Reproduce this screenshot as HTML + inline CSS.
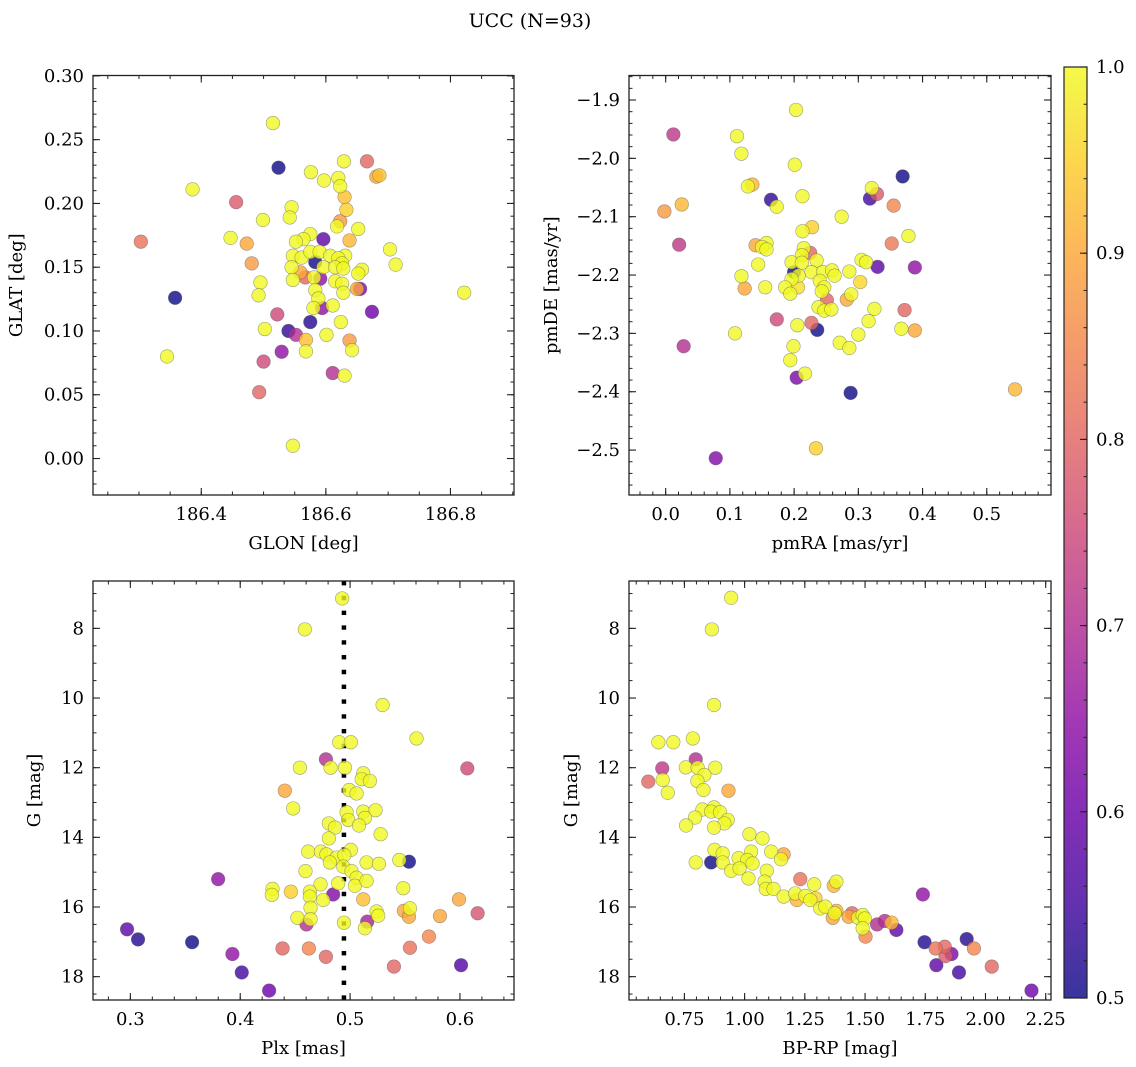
<!DOCTYPE html>
<html><head><meta charset="utf-8">
<style>
html,body{margin:0;padding:0;background:#fff;}
svg{display:block;font-family:"DejaVu Serif","Liberation Serif",serif;}
</style></head>
<body>
<svg id="fig" width="1136" height="1067" viewBox="0 0 1136 1067" xmlns="http://www.w3.org/2000/svg">
<defs>
<linearGradient id="plasma" x1="0" y1="1" x2="0" y2="0">
<stop offset="0" stop-color="#0d0887"/><stop offset="0.1" stop-color="#41049d"/><stop offset="0.2" stop-color="#6a00a8"/><stop offset="0.3" stop-color="#8f0da4"/><stop offset="0.4" stop-color="#b12a90"/><stop offset="0.5" stop-color="#cc4778"/><stop offset="0.6" stop-color="#e16462"/><stop offset="0.7" stop-color="#f2844b"/><stop offset="0.8" stop-color="#fca636"/><stop offset="0.9" stop-color="#fcce25"/><stop offset="1" stop-color="#f0f921"/>
</linearGradient>
</defs>
<text x="530" y="27" text-anchor="middle" font-size="19">UCC (N=93)</text>
<g id="layer"></g>
</svg>
<script>
// ---- Panel 1: GLON vs GLAT ----
const glon = [186.515,186.524,186.629,186.666,186.576,186.597,186.620,186.681,186.686,186.623,186.386,186.630,186.456,186.545,186.542,186.499,186.633,186.623,186.618,186.652,186.447,186.303,186.473,186.596,186.575,186.564,186.552,186.638,186.703,186.712,186.481,186.547,186.561,186.575,186.590,186.583,186.607,186.631,186.620,186.626,186.545,186.596,186.615,186.628,186.559,186.567,186.581,186.591,186.658,186.652,186.547,186.495,186.615,186.626,186.583,186.628,186.655,186.650,186.492,186.358,186.822,186.588,186.611,186.580,186.594,186.674,186.522,186.575,186.624,186.502,186.540,186.552,186.601,186.568,186.638,186.642,186.568,186.529,186.345,186.500,186.611,186.630,186.493,186.547];
const glat = [0.263,0.228,0.233,0.233,0.2245,0.218,0.220,0.221,0.222,0.2135,0.211,0.205,0.201,0.197,0.189,0.187,0.195,0.186,0.182,0.180,0.173,0.170,0.1685,0.172,0.176,0.172,0.170,0.171,0.164,0.152,0.153,0.159,0.1575,0.162,0.162,0.154,0.159,0.159,0.157,0.153,0.150,0.150,0.150,0.149,0.146,0.142,0.142,0.141,0.148,0.145,0.140,0.138,0.139,0.137,0.132,0.130,0.133,0.133,0.128,0.126,0.130,0.1255,0.120,0.118,0.118,0.115,0.113,0.107,0.107,0.1015,0.100,0.097,0.097,0.093,0.0925,0.085,0.084,0.0837,0.080,0.076,0.067,0.065,0.052,0.010];
const prob1 = [1,0.5,1,0.8,1,1,1,0.9,0.93,1,1,0.93,0.78,1,1,1,0.95,0.88,1,1,1,0.82,0.9,0.58,1,1,1,0.92,1,1,0.88,1,1,1,1,0.5,1,1,1,1,1,1,1,1,0.9,0.8,1,0.65,1,1,1,1,1,1,1,1,0.62,0.9,1,0.5,1,1,1,1,0.65,0.6,0.75,0.52,1,1,0.53,0.7,1,0.93,0.88,1,1,0.65,1,0.75,0.7,1,0.8,1];

// ---- Panel 2: pmRA vs pmDE ----
const pmra = [0.203,0.012,0.111,0.118,0.201,0.369,0.128,0.135,0.213,0.321,0.329,0.318,0.164,0.173,-0.002,0.025,0.355,0.274,0.228,0.213,0.378,0.352,0.021,0.140,0.157,0.150,0.157,0.215,0.225,0.212,0.305,0.312,0.330,0.388,0.196,0.212,0.235,0.144,0.200,0.227,0.245,0.259,0.263,0.286,0.118,0.207,0.196,0.240,0.303,0.155,0.123,0.186,0.206,0.247,0.194,0.243,0.251,0.282,0.289,0.238,0.247,0.258,0.325,0.372,0.173,0.227,0.236,0.205,0.316,0.367,0.388,0.108,0.300,0.028,0.199,0.271,0.286,0.194,0.217,0.204,0.288,0.544,0.234,0.078];
const pmde = [-1.917,-1.959,-1.962,-1.992,-2.011,-2.031,-2.048,-2.045,-2.065,-2.051,-2.061,-2.069,-2.071,-2.083,-2.091,-2.079,-2.081,-2.100,-2.118,-2.125,-2.133,-2.146,-2.148,-2.149,-2.145,-2.152,-2.156,-2.154,-2.162,-2.166,-2.174,-2.178,-2.186,-2.187,-2.178,-2.179,-2.175,-2.182,-2.195,-2.195,-2.195,-2.192,-2.201,-2.194,-2.202,-2.201,-2.207,-2.210,-2.212,-2.221,-2.223,-2.221,-2.221,-2.221,-2.232,-2.228,-2.243,-2.242,-2.233,-2.255,-2.261,-2.259,-2.258,-2.260,-2.276,-2.282,-2.294,-2.286,-2.279,-2.292,-2.295,-2.300,-2.302,-2.322,-2.322,-2.316,-2.325,-2.346,-2.369,-2.376,-2.402,-2.396,-2.497,-2.514];
const prob2 = [1,0.72,1,1,1,0.5,1,0.92,1,1,0.78,0.55,0.53,1,0.88,0.92,0.85,1,0.95,1,1,0.83,0.72,0.9,1,1,1,1,0.8,1,1,1,0.58,0.65,1,1,1,1,0.5,1,1,1,1,1,1,1,1,1,0.96,1,0.9,1,0.97,1,1,1,0.8,0.9,1,1,1,1,1,0.8,0.75,0.8,0.5,1,1,1,0.9,1,1,0.7,1,1,1,1,1,0.62,0.5,0.92,0.95,0.63];

// ---- Panel 3: Plx vs G ----
const plx = [0.4928,0.4588,0.5296,0.5605,0.4901,0.5007,0.478,0.4822,0.4543,0.4953,0.6067,0.512,0.5105,0.518,0.4406,0.4992,0.5059,0.4482,0.4968,0.512,0.5232,0.4983,0.5135,0.4807,0.4862,0.5081,0.5278,0.4807,0.4619,0.4734,0.4785,0.5007,0.4877,0.4816,0.4947,0.4938,0.515,0.5262,0.5448,0.5536,0.4594,0.5013,0.5059,0.5044,0.515,0.4892,0.3799,0.4731,0.4294,0.4288,0.4461,0.4634,0.4634,0.4846,0.4755,0.512,0.5484,0.5991,0.464,0.5241,0.5256,0.549,0.5545,0.5536,0.5818,0.6161,0.4521,0.464,0.4603,0.4944,0.5156,0.5135,0.297,0.307,0.3562,0.5718,0.3929,0.4385,0.4625,0.478,0.5545,0.5399,0.601,0.4014,0.4263];
const gmag3 = [7.14,8.03,10.20,11.16,11.27,11.27,11.76,12.00,12.00,12.00,12.02,12.16,12.33,12.38,12.66,12.64,12.74,13.17,13.28,13.26,13.22,13.50,13.44,13.60,13.72,13.66,13.91,14.03,14.41,14.41,14.49,14.36,14.58,14.72,14.51,14.84,14.72,14.76,14.65,14.70,14.97,14.97,15.16,15.39,15.25,15.32,15.20,15.35,15.48,15.65,15.56,15.56,15.70,15.64,15.80,15.78,15.46,15.78,16.02,16.13,16.25,16.11,16.04,16.28,16.26,16.18,16.31,16.35,16.50,16.45,16.42,16.61,16.64,16.93,17.01,16.85,17.35,17.19,17.19,17.43,17.17,17.71,17.67,17.88,18.40];
const prob3 = [1,1,1,1,1,1,0.7,1,1,1,0.75,1,1,1,0.9,1,1,1,1,1,1,1,1,1,1,1,1,1,1,1,1,1,1,1,1,1,1,1,1,0.5,1,1,1,1,1,1,0.65,1,1,1,0.95,1,1,0.63,1,0.93,1,0.9,1,1,1,0.9,1,0.9,0.9,0.77,1,1,0.7,1,0.68,1,0.58,0.52,0.5,0.85,0.65,0.8,0.85,0.8,0.82,0.8,0.57,0.55,0.6];
const plxRef = [0.4944];

// ---- Panel 4: BP-RP vs G ----
const bprp = [0.944,0.864,0.873,0.642,0.704,0.785,0.797,0.658,0.756,0.805,0.878,0.600,0.660,0.833,0.804,0.681,0.829,0.933,0.825,0.873,0.861,0.898,0.794,0.757,0.930,0.916,0.873,1.020,1.074,0.875,0.909,1.110,1.162,1.027,0.975,1.011,1.151,0.797,0.861,0.909,1.033,0.944,0.979,1.092,1.016,1.083,1.231,1.088,1.120,1.289,1.370,1.381,1.162,1.210,1.217,1.252,1.273,1.294,1.314,1.335,1.381,1.374,1.366,1.446,1.432,1.471,1.490,1.499,1.502,1.490,1.550,1.582,1.610,1.630,1.740,1.747,1.793,1.831,1.834,1.859,1.796,1.922,1.952,1.890,2.026,2.191];
const gmag4 = [7.12,8.03,10.20,11.27,11.27,11.16,11.76,12.02,11.99,12.00,12.00,12.40,12.35,12.21,12.38,12.72,12.64,12.66,13.20,13.14,13.26,13.28,13.43,13.66,13.50,13.60,13.72,13.91,14.03,14.36,14.46,14.41,14.49,14.41,14.60,14.65,14.63,14.72,14.72,14.72,14.75,14.96,14.89,14.96,15.18,15.27,15.20,15.48,15.48,15.35,15.39,15.27,15.70,15.61,15.80,15.68,15.80,15.75,16.04,15.99,16.11,16.18,16.31,16.18,16.28,16.31,16.23,16.33,16.85,16.61,16.50,16.40,16.45,16.66,15.64,17.01,17.19,17.14,17.41,17.35,17.67,16.92,17.19,17.88,17.71,18.40];
const prob4 = [1,1,1,1,1,1,0.7,0.72,1,1,1,0.8,1,1,1,1,1,0.9,1,1,1,1,1,1,1,1,1,1,1,1,1,1,0.9,1,1,1,1,1,0.5,1,1,1,1,1,1,1,0.82,1,1,1,0.92,1,1,1,0.92,1,1,0.95,1,1,0.92,1,0.9,0.8,0.9,1,1,1,0.85,1,0.7,0.7,0.92,0.58,0.65,0.52,0.82,0.8,0.78,0.62,0.58,0.52,0.85,0.55,0.8,0.6];

// ---- Colorbar ----
const cbTicks = [0.5,0.6,0.7,0.8,0.9,1.0];

const NS = "http://www.w3.org/2000/svg";
const layer = document.getElementById('layer');
function mk(tag, attrs, parent){ const e=document.createElementNS(NS,tag); for(const k in attrs) e.setAttribute(k,attrs[k]); (parent||layer).appendChild(e); return e; }

const stops=[[0,[13,8,135]],[0.1,[65,4,157]],[0.2,[106,0,168]],[0.3,[143,13,164]],[0.4,[177,42,144]],[0.5,[204,71,120]],[0.6,[225,100,98]],[0.7,[242,132,75]],[0.8,[252,166,54]],[0.9,[252,206,37]],[1,[240,249,33]]];
function plasma(v){ let t=(v-0.5)/0.5; t=Math.max(0,Math.min(1,t));
  for(let i=0;i<stops.length-1;i++){ const a=stops[i],b=stops[i+1]; if(t<=b[0]){ const f=(t-a[0])/(b[0]-a[0]); const c=a[1].map((x,j)=>Math.round(x+(b[1][j]-x)*f)); return `rgb(${c[0]},${c[1]},${c[2]})`; } }
  return 'rgb(240,249,33)'; }

function fmtNum(v,d){ const s=Math.abs(v).toFixed(d); return (v<-1e-9?'\u2212':'')+s; }

const FS = 18;
function panel(cfg){
  const {x0,x1,y0,y1,xlim,ylim,yinv}=cfg;
  const sx=v=>x0+(v-xlim[0])/(xlim[1]-xlim[0])*(x1-x0);
  const sy=v=> yinv ? y0+(v-ylim[0])/(ylim[1]-ylim[0])*(y1-y0) : y1-(v-ylim[0])/(ylim[1]-ylim[0])*(y1-y0);
  const g=mk('g',{});
  
  
  if(cfg.ref){ cfg.ref.forEach(r=>{ const l=mk('line',{x1:sx(r),x2:sx(r),y1:y0,y2:y1,stroke:'#000','stroke-width':4.5,'stroke-dasharray':'4.4 10.4'},g);
    
     }); }
  const pts=mk('g',{},g);
  
  
  const idx=cfg.xs.map((_,i)=>i).sort((a,b)=>cfg.p[a]-cfg.p[b]);
  const cp=mk('clipPath',{id:'clip-'+cfg.name},g); mk('rect',{x:x0,y:y0,width:x1-x0,height:y1-y0},cp);
  pts.setAttribute('clip-path','url(#clip-'+cfg.name+')');
  idx.forEach(i=>{ const c=mk('circle',{cx:sx(cfg.xs[i]),cy:sy(cfg.ys[i]),r:6.8,fill:plasma(cfg.p[i]),'fill-opacity':0.8,stroke:'#555','stroke-opacity':0.55,'stroke-width':0.6},pts);
    
     });
  const fr=mk('rect',{x:x0,y:y0,width:x1-x0,height:y1-y0,fill:'none',stroke:'#222','stroke-width':1.3},g);
  
  
  const eps=1e-9;
  const xa=mk('g',{},g);
  
  
  for(let v=Math.ceil(xlim[0]/cfg.xminor-eps)*cfg.xminor; v<=xlim[1]+eps; v+=cfg.xminor){ const X=sx(v);
    mk('line',{x1:X,x2:X,y1:y1,y2:y1-3.5,stroke:'#222','stroke-width':1},xa); mk('line',{x1:X,x2:X,y1:y0,y2:y0+3.5,stroke:'#222','stroke-width':1},xa); }
  cfg.xmaj.forEach(v=>{ const X=sx(v);
    mk('line',{x1:X,x2:X,y1:y1,y2:y1-7,stroke:'#222','stroke-width':1.1},xa); mk('line',{x1:X,x2:X,y1:y0,y2:y0+7,stroke:'#222','stroke-width':1.1},xa);
    const t=mk('text',{x:X,y:y1+25,'text-anchor':'middle','font-size':FS},xa); t.textContent=fmtNum(v,cfg.xd);
    
     });
  const ya=mk('g',{},g);
  
  
  for(let v=Math.ceil(ylim[0]/cfg.yminor-eps)*cfg.yminor; v<=ylim[1]+eps; v+=cfg.yminor){ const Y=sy(v);
    mk('line',{x1:x0,x2:x0+3.5,y1:Y,y2:Y,stroke:'#222','stroke-width':1},ya); mk('line',{x1:x1,x2:x1-3.5,y1:Y,y2:Y,stroke:'#222','stroke-width':1},ya); }
  cfg.ymaj.forEach(v=>{ const Y=sy(v);
    mk('line',{x1:x0,x2:x0+7,y1:Y,y2:Y,stroke:'#222','stroke-width':1.1},ya); mk('line',{x1:x1,x2:x1-7,y1:Y,y2:Y,stroke:'#222','stroke-width':1.1},ya);
    const t=mk('text',{x:x0-9,y:Y+6,'text-anchor':'end','font-size':FS},ya); t.textContent=fmtNum(v,cfg.yd);
    
     });
  const xl=mk('text',{x:(x0+x1)/2,y:y1+54,'text-anchor':'middle','font-size':FS},g); xl.textContent=cfg.xlabel;
  
  
  const yl=mk('text',{x:0,y:0,'text-anchor':'middle','font-size':FS,transform:`translate(${cfg.ylx},${(y0+y1)/2}) rotate(-90)`},g); yl.textContent=cfg.ylabel;
  
  
}

panel({name:'glon-glat-panel',x0:93,x1:514,y0:75.5,y1:495,xlim:[186.2262,186.902],ylim:[-0.0286,0.3003],xs:glon,ys:glat,p:prob1,
  xmaj:[186.4,186.6,186.8],xminor:0.05,xd:1,ymaj:[0,0.05,0.1,0.15,0.2,0.25,0.3],yminor:0.01,yd:2,xlabel:'GLON [deg]',ylabel:'GLAT [deg]',ylx:22});
panel({name:'pm-panel',x0:629,x1:1051,y0:75.5,y1:495,xlim:[-0.0571,0.600],ylim:[-2.577,-1.858],xs:pmra,ys:pmde,p:prob2,
  xmaj:[0,0.1,0.2,0.3,0.4,0.5],xminor:0.02,xd:1,ymaj:[-2.5,-2.4,-2.3,-2.2,-2.1,-2.0,-1.9],yminor:0.02,yd:1,xlabel:'pmRA [mas/yr]',ylabel:'pmDE [mas/yr]',ylx:557});
panel({name:'plx-g-panel',x0:93,x1:514,y0:581,y1:1000,xlim:[0.266,0.6492],ylim:[6.64,18.67],yinv:true,xs:plx,ys:gmag3,p:prob3,ref:plxRef,
  xmaj:[0.3,0.4,0.5,0.6],xminor:0.02,xd:1,ymaj:[8,10,12,14,16,18],yminor:0.5,yd:0,xlabel:'Plx [mas]',ylabel:'G [mag]',ylx:40});
panel({name:'cmd-panel',x0:629,x1:1051,y0:581,y1:1000,xlim:[0.520,2.272],ylim:[6.64,18.67],yinv:true,xs:bprp,ys:gmag4,p:prob4,
  xmaj:[0.75,1.0,1.25,1.5,1.75,2.0,2.25],xminor:0.05,xd:2,ymaj:[8,10,12,14,16,18],yminor:0.5,yd:0,xlabel:'BP-RP [mag]',ylabel:'G [mag]',ylx:577});

(function(){
  const cx0=1064,cx1=1087,cy0=67,cy1=998;
  const g=mk('g',{});
  
  
  mk('rect',{x:cx0,y:cy0,width:cx1-cx0,height:cy1-cy0,fill:'url(#plasma)','fill-opacity':0.82},g);
  mk('rect',{x:cx0,y:cy0,width:cx1-cx0,height:cy1-cy0,fill:'none',stroke:'#222','stroke-width':1.2},g);
  const sy=v=>cy1-(v-0.5)/0.5*(cy1-cy0);
  for(let v=0.5; v<=1.0001; v+=0.02){ const Y=sy(v); mk('line',{x1:cx1,x2:cx1-3.5,y1:Y,y2:Y,stroke:'#222','stroke-width':1},g); }
  cbTicks.forEach(v=>{ const Y=sy(v); mk('line',{x1:cx1,x2:cx1-7,y1:Y,y2:Y,stroke:'#222','stroke-width':1.1},g);
    const t=mk('text',{x:cx1+9,y:Y+6,'font-size':FS},g); t.textContent=v.toFixed(1);
    
     });
})();
</script>
</body></html>
